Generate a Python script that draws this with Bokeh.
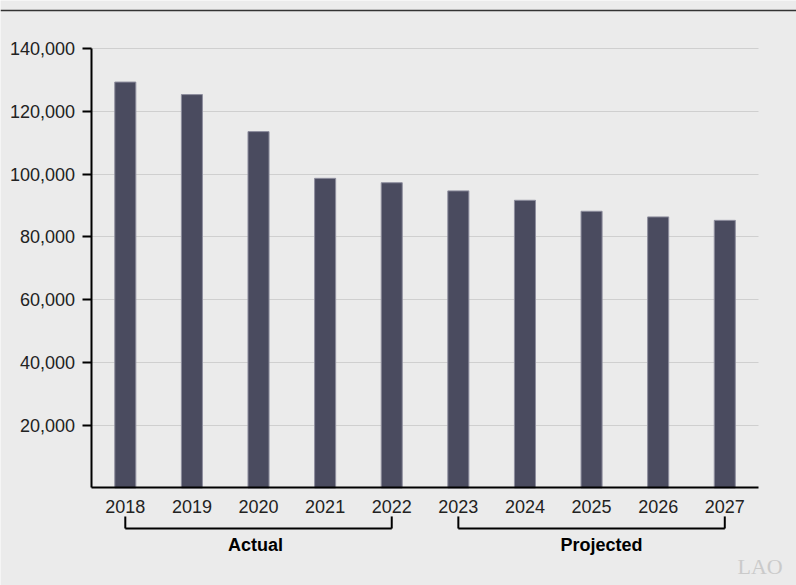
from bokeh.plotting import figure
from bokeh.models import Range1d, FixedTicker, Span, Label, NumeralTickFormatter
from bokeh.core.properties import value
from bokeh.embed import file_html
from bokeh.resources import INLINE

# ---- data ----
years = ["2018", "2019", "2020", "2021", "2022", "2023", "2024", "2025", "2026", "2027"]
counts = [129400, 125400, 113600, 98700, 97300, 94700, 91700, 88200, 86400, 85300]
y_ticks = [20000, 40000, 60000, 80000, 100000, 120000, 140000]
group_names = ["Actual", "Projected"]
group_first = ["2018", "2023"]
group_last = ["2022", "2027"]

BG = "#ebebeb"
INK = "#222222"
FONT = "Liberation Sans"

pos = list(range(len(years)))
idx = {y: i for i, y in enumerate(years)}
g0 = [idx[y] for y in group_first]
g1 = [idx[y] for y in group_last]
gmid = [(a + b) / 2 for a, b in zip(g0, g1)]
left_edge, right_edge = -0.5, len(years) - 0.5

p = figure(width=796, height=585, toolbar_location=None, output_backend="svg",
           x_range=Range1d(-1.8736, 10.0766),
           y_range=Range1d(-31118, 155400),
           min_border=0, outline_line_color=None,
           background_fill_color=BG, border_fill_color=BG)

p.vbar(x=pos, top=counts, width=0.316,
       fill_color="#4a4b5f", line_color="#8e8e9e", line_width=1)

# y axis (drawn at the left edge of the categories)
ya = p.yaxis[0]
ya.fixed_location = left_edge
ya.ticker = FixedTicker(ticks=y_ticks)
ya.bounds = (0, max(y_ticks))
ya.formatter = NumeralTickFormatter(format="0,0")
ya.axis_line_color = "black"
ya.axis_line_width = 2
ya.major_tick_line_color = "black"
ya.major_tick_line_width = 2
ya.major_tick_in = 0
ya.major_tick_out = 9
ya.minor_tick_line_color = None
ya.major_label_standoff = 8
ya.major_label_text_font = FONT
ya.major_label_text_font_size = "18px"
ya.major_label_text_color = INK

# x axis at zero
xa = p.xaxis[0]
xa.fixed_location = 0
xa.ticker = FixedTicker(ticks=pos)
xa.major_label_overrides = {i: y for i, y in enumerate(years)}
xa.bounds = (left_edge, right_edge)
xa.axis_line_color = "black"
xa.axis_line_width = 2
xa.major_tick_line_color = None
xa.minor_tick_line_color = None
xa.major_label_standoff = 6
xa.major_label_text_font = FONT
xa.major_label_text_font_size = "18px"
xa.major_label_text_color = INK

p.xgrid.visible = False
p.ygrid.grid_line_color = "#cfcfcf"
p.ygrid.grid_line_width = 1
p.ygrid.cross_bounds = (left_edge, right_edge)

# top rule
p.add_layout(Span(location=152200, dimension="width", line_color="#333333", line_width=1.5))

# brackets
b_top, b_bot, t_y = -9100, -12950, -18100
p.segment(x0=g0, y0=[b_bot] * 2, x1=g1, y1=[b_bot] * 2,
          line_color="black", line_width=2)
p.segment(x0=g0 + g1, y0=[b_top] * 4, x1=g0 + g1, y1=[b_bot] * 4,
          line_color="black", line_width=2)
p.text(x=gmid, y=[t_y] * 2, text=group_names, x_offset=[-3, 10],
       text_align="center", text_baseline="middle",
       text_font=value(FONT), text_font_size="18px", text_font_style="bold",
       text_color="black")

# watermark
p.add_layout(Label(x=9.191, y=-25000, text="LAO", text_font="Liberation Serif",
                   text_font_size="22px", text_color="#cacaca",
                   text_baseline="alphabetic", text_align="left"))

open("out.html", "w").write(file_html(p, INLINE))
